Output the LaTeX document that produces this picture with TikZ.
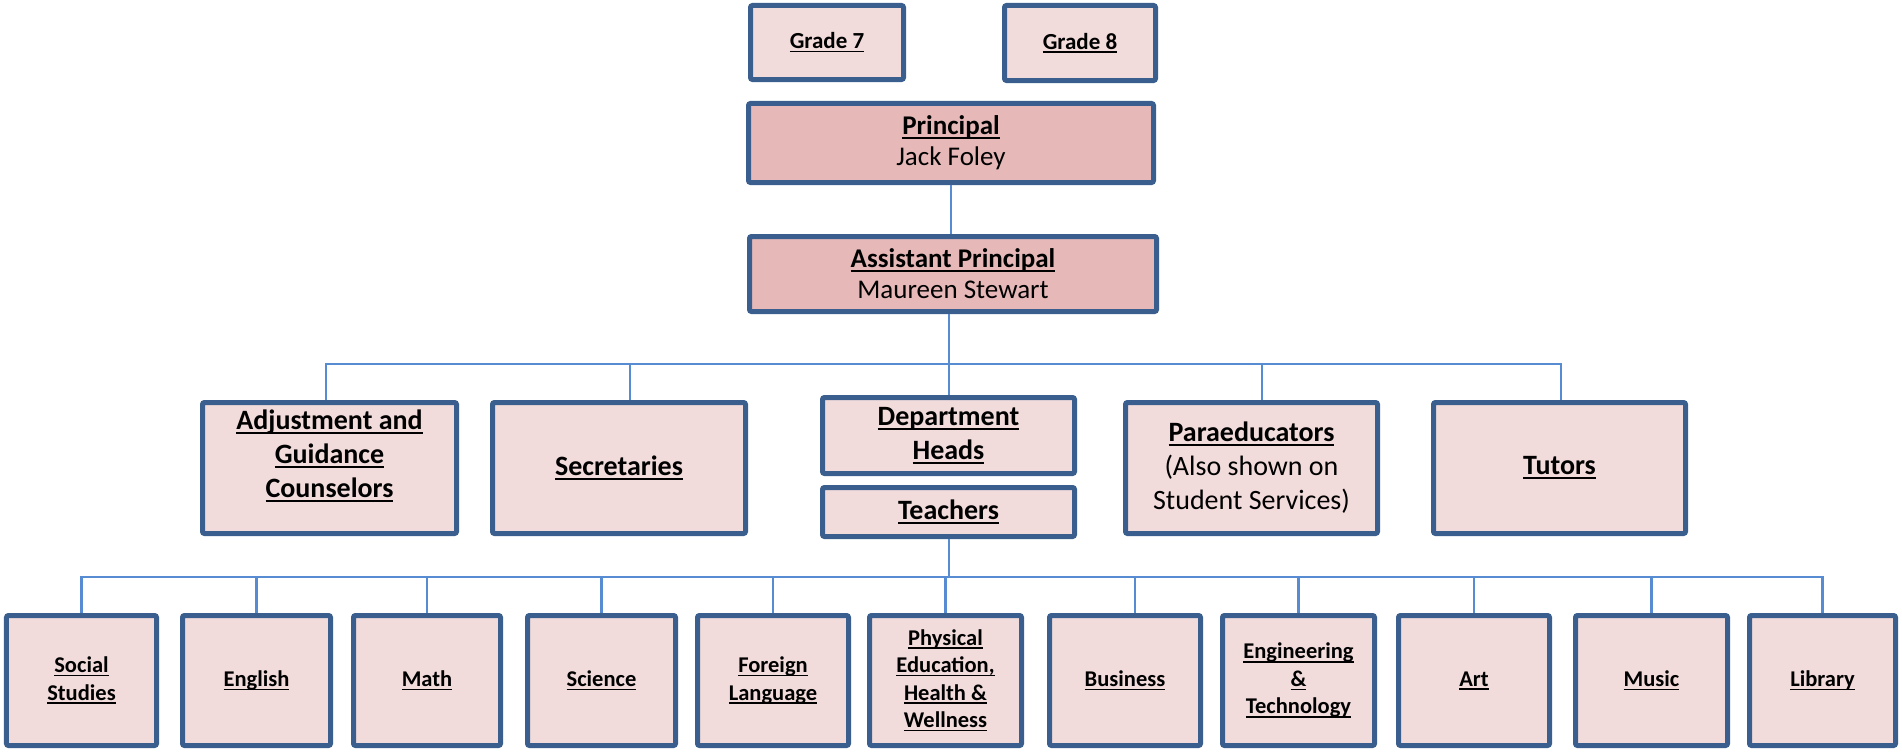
\documentclass[tikz,border=0pt]{standalone}
\usepackage{fontspec}
\setmainfont{Carlito}
\definecolor{bordercol}{RGB}{58,95,142}
\definecolor{lightpink}{RGB}{242,220,219}
\definecolor{darkpink}{RGB}{230,185,184}
\definecolor{conncol}{RGB}{88,140,210}
\newcommand{\myul}[1]{\setbox0=\hbox{#1}\leavevmode\rlap{\rule[-0.16em]{\wd0}{0.07em}}\box0}
\tikzset{
 box/.style={draw=bordercol, line width=5bp, fill=lightpink, rounded corners=2bp, inner sep=0pt, align=center, text=black},
 topbox/.style={box, fill=darkpink, font=\fontsize{27bp}{31bp}\selectfont},
 gradebox/.style={box, font=\fontsize{23bp}{28bp}\selectfont\bfseries},
 midbox/.style={box, font=\fontsize{28bp}{34bp}\selectfont\bfseries},
 midtext/.style={inner sep=0pt, align=center, text=black, font=\fontsize{28bp}{34bp}\selectfont\bfseries},
 lowbox/.style={box, font=\fontsize{22.5bp}{27.5bp}\selectfont\bfseries, minimum height=130bp},
 conn/.style={draw=conncol, line width=2.7bp},
}
\begin{document}
\begin{tikzpicture}[x=1bp,y=-1bp]
\useasboundingbox (0,0) rectangle (1902,752);
% top
\node[gradebox, minimum width=153bp, minimum height=74bp] (g7) at (827,42.5) {\myul{Grade 7}};
\node[gradebox, minimum width=151bp, minimum height=75bp] (g8) at (1080,43) {\myul{Grade 8}};
\node[topbox, minimum width=405bp, minimum height=79bp] (P) at (951,143) {\textbf{\myul{Principal}}\\Jack Foley};
\node[topbox, minimum width=407bp, minimum height=75bp] (AP) at (953,274) {\textbf{\myul{Assistant Principal}}\\Maureen Stewart};
% level 2
\node[midbox, minimum width=254bp, minimum height=131bp] (adj) at (329.5,468) {};
\node[midtext, yshift=12bp] (adjtext) at (adj.center) {\myul{Adjustment and}\\\myul{Guidance}\\\myul{Counselors}};
\node[midbox, minimum width=253bp, minimum height=131bp] (sec) at (619,468) {\myul{Secretaries}};
\node[midbox, minimum width=252bp, minimum height=76bp] (dh) at (948.5,435.5) {\myul{Department}\\\myul{Heads}};
\node[midbox, minimum width=252bp, minimum height=49bp] (te) at (948.5,512) {\myul{Teachers}};
\node[midbox, minimum width=252bp, minimum height=131bp] (para) at (1251.5,468) {\myul{Paraeducators}\\\mdseries(Also shown on\\\mdseries Student Services)};
\node[midbox, minimum width=252bp, minimum height=131bp] (tut) at (1559.5,468) {\myul{Tutors}};
% level 3
\node[lowbox, minimum width=150bp] (ss) at (81.5,680.5) {\myul{Social}\\\myul{Studies}};
\node[lowbox, minimum width=148bp] (en) at (256.5,680.5) {\myul{English}};
\node[lowbox, minimum width=147bp] (ma) at (427,680.5) {\myul{Math}};
\node[lowbox, minimum width=148bp] (sc) at (601.5,680.5) {\myul{Science}};
\node[lowbox, minimum width=151bp] (fl) at (773,680.5) {\myul{Foreign}\\\myul{Language}};
\node[lowbox, minimum width=152bp] (pe) at (945.5,680.5) {\myul{Physical}\\\myul{Education,}\\\myul{Health \&}\\\myul{Wellness}};
\node[lowbox, minimum width=151bp] (bu) at (1125,680.5) {\myul{Business}};
\node[lowbox, minimum width=152bp] (et) at (1298.5,680.5) {\myul{Engineering}\\\myul{\&}\\\myul{Technology}};
\node[lowbox, minimum width=151bp] (ar) at (1474,680.5) {\myul{Art}};
\node[lowbox, minimum width=152bp] (mu) at (1651.5,680.5) {\myul{Music}};
\node[lowbox, minimum width=146bp] (li) at (1822.5,680.5) {\myul{Library}};
% connectors
\coordinate (bus2) at (949,364);
\coordinate (bus3) at (949,577);
\draw[conn] (P.south) -- (P.south |- AP.north);
\draw[conn] (AP.south -| bus2) -- (bus2);
\draw[conn] ([xshift=-3.5bp]adj.north) |- (bus2) -| ([xshift=1.5bp]tut.north);
\draw[conn] ([xshift=11bp]sec.north) -- ([xshift=11bp]sec.north |- bus2);
\draw[conn] (bus2) -- (bus2 |- dh.north);
\draw[conn] ([xshift=10.5bp]para.north) -- ([xshift=10.5bp]para.north |- bus2);
\draw[conn] (te.south -| bus3) -- (bus3);
\draw[conn] (ss.north) |- (bus3) -| (li.north);
\foreach \n in {en,ma,sc,fl,pe,et,ar,mu} {\draw[conn] (\n.north) -- (\n.north |- bus3);}
\draw[conn] ([xshift=10bp]bu.north) -- ([xshift=10bp]bu.north |- bus3);
\end{tikzpicture}
\end{document}
